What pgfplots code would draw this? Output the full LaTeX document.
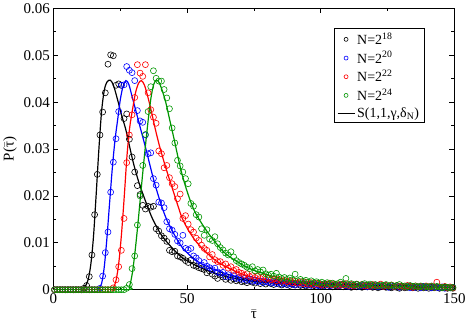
\documentclass[border=0pt]{standalone}
\usepackage{fontspec}
\setmainfont{Liberation Serif}
\usepackage{pgfplots}
\usepackage{pgfplotstable}
\pgfplotsset{compat=1.18}
\definecolor{ggreen}{RGB}{0,150,0}

% measured histograms: x, N=2^18, 2^20, 2^22, 2^24
\pgfplotstableread{
x b u r g
0.4 0 0 0 0
1.4 0 0 0 0
2.4 0 0 0 0
3.4 0 0 0 0
4.4 0 0 0 0
5.4 0 0 0 0
6.4 0 0 0 0
7.4 0 0 0 0
8.4 0 0 0 0
9.4 0 0 0 0
10.4 0 0 0 0
11.4 0.0003 0 0 0
12.4 0.0009 0 0 0
13.4 0.0028 0 0 0
14.4 0.0074 0 0 0
15.4 0.0160 0 0 0
16.4 0.0246 0 0 0
17.4 0.0330 0.0003 0 0
18.4 0.0379 0.0029 0 0
19.4 0.0420 0.0079 0 0
20.4 0.0481 0.0123 0 0
21.4 0.0501 0.0208 0 0
22.4 0.0499 0.0272 0.0004 0
23.4 0.0436 0.0322 0.0021 0
24.4 0.0439 0.0380 0.0049 0
25.4 0.0436 0.0436 0.0084 0
26.4 0.0365 0.0437 0.0152 0
27.4 0.0375 0.0476 0.0271 0.0003
28.4 0.0321 0.0468 0.0330 0.0011
29.4 0.0283 0.0463 0.0373 0.0045
30.4 0.0251 0.0446 0.0410 0.0072
31.4 0.0222 0.0382 0.0480 0.0138
32.4 0.0203 0.0360 0.0462 0.0200
33.4 0.0180 0.0357 0.0455 0.0265
34.4 0.0172 0.0330 0.0480 0.0331
35.4 0.0178 0.0290 0.0420 0.0380
36.4 0.0176 0.0292 0.0384 0.0433
37.4 0.0178 0.0237 0.0368 0.0467
38.4 0.0130 0.0223 0.0355 0.0451
39.4 0.0125 0.0187 0.0296 0.0445
40.4 0.0115 0.0185 0.0290 0.0445
41.4 0.0110 0.0175 0.0260 0.0427
42.4 0.0103 0.0145 0.0265 0.0409
43.4 0.0084 0.0130 0.0239 0.0386
44.4 0.0081 0.0127 0.0226 0.0345
45.4 0.0082 0.0118 0.0220 0.0313
46.4 0.0072 0.0104 0.0194 0.0276
47.4 0.0070 0.0100 0.0204 0.0264
48.4 0.0067 0.0116 0.0152 0.0251
49.4 0.0062 0.0088 0.0158 0.0237
50.4 0.0058 0.0085 0.0140 0.0226
51.4 0.0063 0.0088 0.0128 0.0184
52.4 0.0052 0.0072 0.0123 0.0178
53.4 0.0050 0.0068 0.0110 0.0160
54.4 0.0047 0.0062 0.0105 0.0155
55.4 0.0045 0.0053 0.0095 0.0130
56.4 0.0043 0.0058 0.0088 0.0116
57.4 0.0036 0.0050 0.0084 0.0128
58.4 0.0040 0.0047 0.0070 0.0108
59.4 0.0033 0.0043 0.0075 0.0105
60.4 0.0029 0.0046 0.0064 0.0113
61.4 0.0024 0.0038 0.0060 0.0098
62.4 0.0031 0.0035 0.0060 0.0090
63.4 0.0027 0.0037 0.0052 0.0085
64.4 0.0022 0.0028 0.0055 0.0078
65.4 0.0026 0.0032 0.0046 0.0074
66.4 0.0020 0.0027 0.0049 0.0081
67.4 0.0023 0.0030 0.0041 0.0070
68.4 0.0019 0.0024 0.0043 0.0062
69.4 0.0021 0.0026 0.0037 0.0058
70.4 0.0017 0.0022 0.0035 0.0055
71.4 0.0018 0.0024 0.0031 0.0052
72.4 0.0015 0.0020 0.0034 0.0048
73.4 0.0019 0.0023 0.0028 0.0045
74.4 0.0016 0.0018 0.0030 0.0049
75.4 0.0014 0.0021 0.0026 0.0040
76.4 0.0018 0.0017 0.0029 0.0043
77.4 0.0013 0.0019 0.0024 0.0038
78.4 0.0016 0.0015 0.0027 0.0042
79.4 0.0012 0.0018 0.0022 0.0034
80.4 0.0015 0.0016 0.0025 0.0031
81.4 0.0013 0.0014 0.0021 0.0033
82.4 0.0011 0.0017 0.0023 0.0029
83.4 0.0016 0.0013 0.0019 0.0035
84.4 0.0012 0.0016 0.0022 0.0027
85.4 0.0010 0.0012 0.0018 0.0024
86.4 0.0013 0.0015 0.0020 0.0026
87.4 0.0011 0.0011 0.0017 0.0022
88.4 0.0009 0.0014 0.0019 0.0025
89.4 0.0012 0.0012 0.0015 0.0021
90.4 0.0010 0.0010 0.0018 0.0033
91.4 0.0013 0.0013 0.0014 0.0019
92.4 0.0009 0.0011 0.0017 0.0022
93.4 0.0011 0.0014 0.0013 0.0018
94.4 0.0008 0.0010 0.0016 0.0020
95.4 0.0010 0.0012 0.0012 0.0016
96.4 0.0012 0.0009 0.0015 0.0019
97.4 0.0009 0.0013 0.0011 0.0015
98.4 0.0007 0.0010 0.0014 0.0017
99.4 0.0010 0.0008 0.0012 0.0014
100.4 0.0008 0.0011 0.0010 0.0016
101.4 0.0011 0.0009 0.0013 0.0013
102.4 0.0007 0.0012 0.0011 0.0015
103.4 0.0009 0.0008 0.0014 0.0012
104.4 0.0006 0.0010 0.0010 0.0014
105.4 0.0009 0.0011 0.0012 0.0011
106.4 0.0008 0.0008 0.0009 0.0013
107.4 0.0010 0.0010 0.0012 0.0016
108.4 0.0006 0.0012 0.0010 0.0012
109.4 0.0008 0.0009 0.0013 0.0024
110.4 0.0007 0.0007 0.0009 0.0011
111.4 0.0005 0.0010 0.0011 0.0013
112.4 0.0009 0.0008 0.0008 0.0010
113.4 0.0006 0.0011 0.0012 0.0012
114.4 0.0008 0.0007 0.0009 0.0009
115.4 0.0005 0.0009 0.0011 0.0011
116.4 0.0007 0.0010 0.0008 0.0013
117.4 0.0006 0.0006 0.0010 0.0010
118.4 0.0008 0.0009 0.0007 0.0012
119.4 0.0005 0.0007 0.0011 0.0009
120.4 0.0007 0.0010 0.0008 0.0011
121.4 0.0004 0.0006 0.0009 0.0008
122.4 0.0006 0.0008 0.0012 0.0010
123.4 0.0008 0.0007 0.0007 0.0009
124.4 0.0005 0.0009 0.0009 0.0011
125.4 0.0006 0.0005 0.0008 0.0008
126.4 0.0004 0.0008 0.0010 0.0010
127.4 0.0007 0.0006 0.0006 0.0007
128.4 0.0005 0.0008 0.0009 0.0009
129.4 0.0003 0.0005 0.0007 0.0011
130.4 0.0006 0.0007 0.0008 0.0007
131.4 0.0004 0.0006 0.0006 0.0008
132.4 0.0005 0.0008 0.0009 0.0006
133.4 0.0007 0.0004 0.0007 0.0009
134.4 0.0004 0.0007 0.0005 0.0007
135.4 0.0005 0.0005 0.0008 0.0008
136.4 0.0003 0.0006 0.0006 0.0006
137.4 0.0006 0.0004 0.0007 0.0008
138.4 0.0004 0.0007 0.0005 0.0005
139.4 0.0005 0.0005 0.0008 0.0007
140.4 0.0003 0.0006 0.0006 0.0006
141.4 0.0005 0.0004 0.0007 0.0008
142.4 0.0004 0.0006 0.0005 0.0005
143.4 0.0006 0.0005 0.0016 0.0007
144.4 0.0003 0.0004 0.0006 0.0006
145.4 0.0004 0.0006 0.0005 0.0004
146.4 0.0005 0.0003 0.0007 0.0006
147.4 0.0003 0.0005 0.0004 0.0005
148.4 0.0004 0.0004 0.0006 0.0004
149.4 0.0003 0.0005 0.0004 0.0005
}\pts

% stable-law fits S(1,1,gamma,delta_N)
\pgfplotstableread{
x y
0 0
10 0
11 0.0002
12 0.0008
13 0.0022
14 0.0055
15 0.0115
16 0.0205
17 0.0300
18 0.0380
19 0.0425
20 0.0443
21.3 0.0447
22.5 0.0435
24 0.0405
25.5 0.0372
27 0.0343
28.5 0.0305
30 0.0268
32 0.0228
34.5 0.0188
37 0.0152
40 0.0120
43 0.0098
48 0.0069
55 0.0047
61 0.0034
67 0.0025
73 0.0019
80 0.0015
90 0.0011
100 0.0009
120 0.0007
150 0.0004
}\fitb

\pgfplotstableread{
x y
0 0
16 0
17 0.0003
18 0.0013
19 0.0048
20 0.0110
21 0.0185
22 0.0258
23 0.0318
24 0.0362
25 0.0405
26 0.0433
27.1 0.0446
28.2 0.0438
29.5 0.0410
31 0.0378
32.5 0.0345
34.6 0.0300
37.7 0.0230
40.8 0.0173
43.3 0.0138
48.2 0.0090
54 0.0060
60.7 0.0042
67 0.0030
73 0.0022
80 0.0017
90 0.0013
100 0.0011
120 0.0008
150 0.0005
}\fitu

\pgfplotstableread{
x y
0 0
21.5 0
22.5 0.0005
23.5 0.0022
24.5 0.0060
25.5 0.0122
26.5 0.0200
27.5 0.0285
28.5 0.0345
29.6 0.0385
30.7 0.0420
31.8 0.0440
32.9 0.0446
34 0.0437
35 0.0418
36.4 0.0386
38 0.0345
39.6 0.0308
41.5 0.0270
43.3 0.0237
46.4 0.0182
48.2 0.0152
51 0.0122
54.5 0.0095
60.7 0.0062
67 0.0042
73 0.0029
80 0.0021
92 0.0015
100 0.0012
120 0.0008
150 0.0005
}\fitr

\pgfplotstableread{
x y
0 0
27.5 0
28.5 0.0008
29.5 0.0035
30.5 0.0080
31.5 0.0135
32.5 0.0195
33.5 0.0255
34.5 0.0312
35.5 0.0365
36.5 0.0410
37.5 0.0438
38.5 0.0447
39.5 0.0442
40.5 0.0428
42 0.0400
43.5 0.0362
45.1 0.0322
46.5 0.0285
48.2 0.0244
50.5 0.0201
53 0.0165
57 0.0128
61 0.0098
65 0.0074
73 0.0046
80 0.0032
86 0.0023
92 0.0018
100 0.0014
120 0.0009
150 0.0005
}\fitg

\begin{document}
\begin{tikzpicture}
\begin{axis}[
    scale only axis,
    width=402pt, height=282pt,
    xmin=0, xmax=150, ymin=0, ymax=0.06,
    xtick={0,50,100,150}, minor x tick num=1,
    ytick={0,0.01,0.02,0.03,0.04,0.05,0.06}, minor y tick num=1,
    tick align=inside,
    major tick length=5pt, minor tick length=3pt,
    axis line style={line width=0.9pt},
    every tick/.style={line width=0.8pt, black},
    scaled y ticks=false,
    yticklabel style={/pgf/number format/fixed, /pgf/number format/precision=2},
    /pgf/number format/assume math mode=true,
    tick label style={font=\fontsize{15}{17}\selectfont},
    label style={font=\fontsize{15}{17}\selectfont},
    xlabel={$\bar{\mbox{τ}}$},
    ylabel={P($\bar{\mbox{τ}}$)},
    legend style={at={(rel axis cs:0.925,0.929)}, anchor=north east,
        draw=black, line width=0.8pt, font=\fontsize{14}{16}\selectfont,
        row sep=1.5pt, inner xsep=3pt, inner ysep=2pt},
    legend cell align=left,
]
\addplot[only marks, mark=o, mark size=3pt, black, mark options={line width=0.6pt},
    legend image post style={mark size=2pt}] table[x=x, y=b] {\pts};
\addplot[only marks, mark=o, mark size=3pt, blue, mark options={line width=0.6pt},
    legend image post style={mark size=2pt}] table[x=x, y=u] {\pts};
\addplot[only marks, mark=o, mark size=3pt, red, mark options={line width=0.6pt},
    legend image post style={mark size=2pt}] table[x=x, y=r] {\pts};
\addplot[only marks, mark=o, mark size=3pt, ggreen, mark options={line width=0.6pt},
    legend image post style={mark size=2pt}] table[x=x, y=g] {\pts};
\addplot[black, line width=1.2pt, smooth, tension=0.5] table {\fitb};
\addplot[blue, line width=1.2pt, smooth, tension=0.5, forget plot] table {\fitu};
\addplot[red, line width=1.2pt, smooth, tension=0.5, forget plot] table {\fitr};
\addplot[ggreen, line width=1.2pt, smooth, tension=0.5, forget plot] table {\fitg};
\legend{N=2\textsuperscript{18}, N=2\textsuperscript{20}, N=2\textsuperscript{22}, N=2\textsuperscript{24}, {S(1,1,γ,δ\textsubscript{N})}}
\end{axis}
\end{tikzpicture}
\end{document}
